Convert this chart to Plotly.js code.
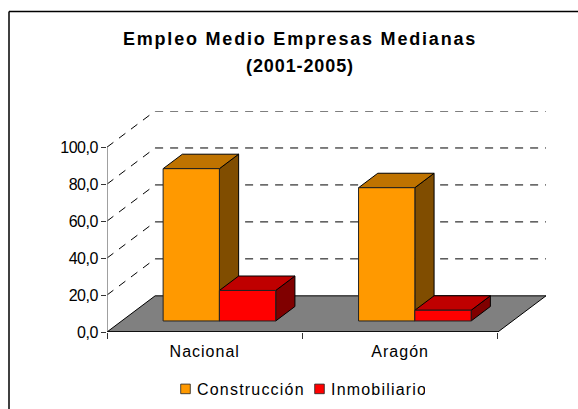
<!DOCTYPE html>
<html>
<head>
<meta charset="utf-8">
<script src="https://cdn.plot.ly/plotly-3.0.1.min.js"></script>
<style>
html,body{margin:0;padding:0;background:#fff;overflow:hidden}
#chart{width:578px;height:409px}
.x2tick text{letter-spacing:1px}
.ytick text{letter-spacing:-0.5px}
.legendtext{letter-spacing:1.2px}
.gtitle{letter-spacing:1.8px}
.legendpoints path{transform:translate(28.5px,0) scale(.8)}
</style>
</head>
<body>
<div id="chart"></div>
<script>
const categories = ['Nacional', 'Aragón'];
const construccion = [82.4, 72.1];
const inmobiliario = [16.5, 5.8];
const valueTicks = [0, 20, 40, 60, 80, 100];
const gridLevels = [20, 40, 60, 80, 100];
const categoryEdges = [0, 1, 2];

const ORANGE = {front:'#FF9900', top:'#BF7300', side:'#804D00'};
const RED = {front:'#FF0000', top:'#BF0000', side:'#800000'};

/* oblique projection: depth d (0 front .. 1 back) shifts a point in axis units */
const DX = 0.2462, DY = 19.57;
const W = 578, H = 409, L = 107, R = 32, T = 111.3, B = 77.3;
const plotW = W - L - R, plotH = H - T - B;
const px = x => (x - L) / plotW, py = y => (H - B - y) / plotH;

const BAR_W = 0.288, D0 = 0.305, D1 = 0.705;
const proj = (x, v, d) => [x + d * DX, v + d * DY];

function poly(points, fill, lineColor) {
  const p = points.concat([points[0]]);
  return {type:'scatter', mode:'lines', x:p.map(q => q[0]), y:p.map(q => q[1]),
    fill:'toself', fillcolor:fill, line:{color:lineColor || '#000', width:1},
    hoverinfo:'skip', showlegend:false};
}
function seg(a, b, color, dash, width) {
  return {type:'scatter', mode:'lines', x:[a[0], b[0]], y:[a[1], b[1]],
    line:{color:color, width:width || 1, dash:dash || 'solid'}, hoverinfo:'skip', showlegend:false};
}
function box3d(x0, x1, v, c) {
  return [
    poly([proj(x1,0,D0), proj(x1,0,D1), proj(x1,v,D1), proj(x1,v,D0)], c.side),
    poly([proj(x0,v,D0), proj(x1,v,D0), proj(x1,v,D1), proj(x0,v,D1)], c.top)
  ];
}

const traces = [];
/* floor */
traces.push(poly([proj(0,0,0), proj(2,0,0), proj(2,0,1), proj(0,0,1)], '#808080'));
/* dashed gridlines: side wall then back wall */
gridLevels.forEach(v => {
  traces.push(seg(proj(0,v,0), proj(0,v,1), '#000', '8px,7px'));
  traces.push(seg(proj(0,v,1), proj(2,v,1), '#000', '8px,7px'));
});
/* axis lines */
traces.push(seg([0,0], [0,100], '#808080', 'solid', 1.5));
traces.push(seg([0,0], [2,0], '#000', 'solid', 1.5));
/* depth faces */
categories.forEach((c, i) => {
  const mid = i + 0.5;
  traces.push(...box3d(mid - BAR_W, mid, construccion[i], ORANGE));
  traces.push(...box3d(mid, mid + BAR_W, inmobiliario[i], RED));
});
/* front faces: real bars on an overlaid subplot so they sit above the depth faces */
const barX = categories.map((c, i) => i + 0.5 + D0 * DX);
const barBase = categories.map(() => D0 * DY);
traces.push({type:'bar', name:'Construcción', x:barX, y:construccion, base:barBase,
  xaxis:'x2', yaxis:'y2', marker:{color:ORANGE.front, line:{color:'#222', width:1}}, hoverinfo:'y'});
traces.push({type:'bar', name:'Inmobiliario', x:barX, y:inmobiliario, base:barBase,
  xaxis:'x2', yaxis:'y2', marker:{color:RED.front, line:{color:'#222', width:1}}, hoverinfo:'y'});

const FONT = 'Liberation Sans, Arial, sans-serif';
const xRange = [0, 2 + DX], yRange = [0, 100 + DY];
const layout = {
  width:W, height:H, margin:{l:L, r:R, t:T, b:B},
  paper_bgcolor:'#fff', plot_bgcolor:'rgba(0,0,0,0)',
  separators:',.',
  font:{family:FONT, color:'#000', size:16},
  title:{text:'Empleo Medio Empresas Medianas<br>(2001-2005)',
    font:{family:FONT, size:18, weight:700, color:'#000'},
    x:px(300), xref:'paper', xanchor:'center', y:1-45/H, yanchor:'alpha'},
  barmode:'group', bargap:1 - 2 * BAR_W, bargroupgap:0,
  xaxis:{range:xRange, tickmode:'array', tickvals:categoryEdges, showticklabels:false,
    ticks:'outside', ticklen:6, tickcolor:'#333', showgrid:false, zeroline:false, showline:false, anchor:'y'},
  yaxis:{range:yRange, tickmode:'array', tickvals:valueTicks, tickformat:'.1f',
    ticks:'outside', ticklen:5, tickcolor:'#333', showgrid:false, zeroline:false, showline:false,
    tickfont:{family:FONT, size:16, color:'#000'}, anchor:'x'},
  xaxis2:{range:xRange, overlaying:'x', anchor:'y2', side:'bottom', tickmode:'array',
    tickvals:categories.map((c, i) => i + 0.5), ticktext:categories,
    ticks:'outside', ticklen:5, tickcolor:'rgba(0,0,0,0)', showgrid:false, zeroline:false, showline:false,
    tickfont:{family:FONT, size:16, color:'#000'}},
  yaxis2:{range:yRange, overlaying:'y', anchor:'x2', visible:false},
  legend:{orientation:'h', x:157/W, xref:'container', xanchor:'left', y:1-372/H, yref:'container', yanchor:'top',
    font:{family:FONT, size:16, color:'#000'}, bgcolor:'rgba(0,0,0,0)', entrywidth:89, entrywidthmode:'pixels', traceorder:'normal'},
  showlegend:true,
  shapes:[
    {type:'line', xref:'paper', yref:'paper', x0:px(9), x1:px(578), y0:py(12), y1:py(12), line:{color:'#000', width:1.5}},
    {type:'line', xref:'paper', yref:'paper', x0:px(9), x1:px(9), y0:py(12), y1:py(409), line:{color:'#000', width:1.5}}
  ]
};
Plotly.newPlot('chart', traces, layout, {displayModeBar:false, staticPlot:true}).then(() => {
  const lines = document.querySelectorAll('.gtitle tspan.line');
  if (lines[1]) { lines[1].setAttribute('dy', '27'); lines[1].style.letterSpacing = '0.9px'; }
});
</script>
</body>
</html>
